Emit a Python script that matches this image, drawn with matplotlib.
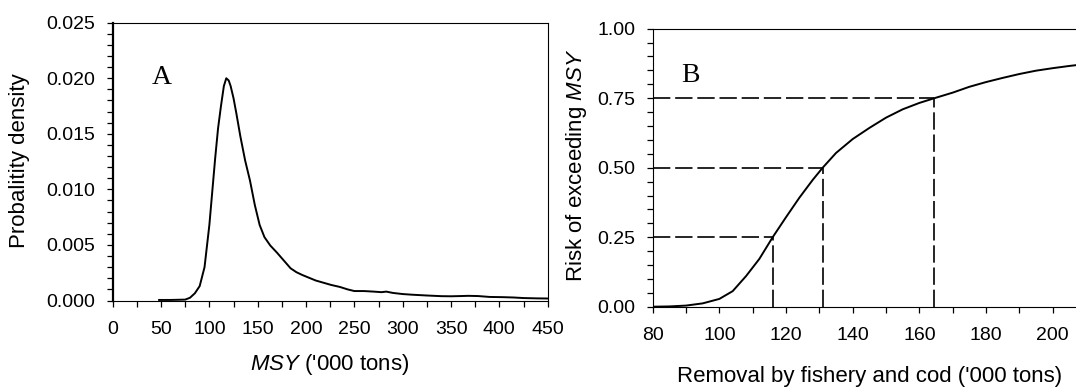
import matplotlib
matplotlib.use("Agg")
import matplotlib.pyplot as plt
from matplotlib.ticker import MultipleLocator, FormatStrFormatter

plt.rcParams['font.family'] = ['Liberation Sans', 'DejaVu Sans']
plt.rcParams['mathtext.fontset'] = 'custom'
plt.rcParams['mathtext.it'] = 'Liberation Sans:italic'
plt.rcParams['mathtext.rm'] = 'Liberation Sans'

# ---- Panel A data: probability density of MSY ----
msy_x = [48, 60, 75, 80, 85, 90, 95, 100, 103, 106, 109, 112, 115, 117.5, 120, 122,
         125, 128, 132, 137, 142, 147, 152, 157, 163, 170, 177, 184, 190, 196, 203,
         210, 218, 226, 235, 243, 250, 260, 270, 278, 283, 290, 300, 310, 325, 340,
         350, 360, 368, 378, 390, 404, 415, 425, 440, 450]
msy_density = [0.05, 0.05, 0.08, 0.25, 0.65, 1.3, 3.0, 6.8, 9.8, 12.8, 15.5, 17.5, 19.3,
               20.0, 19.8, 19.3, 18.2, 16.8, 14.8, 12.6, 10.8, 8.6, 6.8, 5.7, 4.95, 4.3,
               3.6, 2.9, 2.55, 2.3, 2.05, 1.8, 1.6, 1.4, 1.22, 1.0, 0.85, 0.85, 0.8,
               0.75, 0.8, 0.68, 0.58, 0.52, 0.45, 0.39, 0.38, 0.40, 0.42, 0.40, 0.32,
               0.30, 0.27, 0.22, 0.19, 0.18]
msy_density = [v * 1e-3 for v in msy_density]

# ---- Panel B data: risk of exceeding MSY ----
removal_x = [80, 85, 90, 95, 100, 104, 108, 112, 116, 120, 124, 128, 131, 135, 140, 145,
             150, 155, 160, 164.5, 170, 175, 180, 185, 190, 195, 200, 205, 210]
risk = [0.0, 0.001, 0.004, 0.012, 0.028, 0.056, 0.11, 0.172, 0.25, 0.322, 0.392, 0.456,
        0.50, 0.553, 0.603, 0.643, 0.68, 0.71, 0.733, 0.75, 0.77, 0.791, 0.808, 0.823,
        0.837, 0.849, 0.858, 0.866, 0.873]

# reference levels (risk, removal)
ref_risk = [0.25, 0.50, 0.75]
ref_removal = [116, 131, 164.5]

W, H = 1076, 387
fig = plt.figure(figsize=(W / 100, H / 100), dpi=100)

FS_TICK = 14
FS_LAB = 16

def px_axes(l, r, t, b):
    return fig.add_axes([l / W, 1 - b / H, (r - l) / W, (b - t) / H])

# ---------- Panel A ----------
axA = px_axes(112.7, 547.7, 22.7, 300.5)
axA.plot(msy_x, msy_density, color='black', lw=1.4)
axA.set_xlim(0, 450)
axA.set_ylim(0, 0.025)
axA.xaxis.set_major_locator(MultipleLocator(50))
axA.xaxis.set_minor_locator(MultipleLocator(25))
axA.yaxis.set_major_locator(MultipleLocator(0.005))
axA.yaxis.set_minor_locator(MultipleLocator(0.001))
axA.yaxis.set_major_formatter(FormatStrFormatter('%.3f'))
axA.set_ylabel('Probalitity density', fontsize=FS_LAB)
axA.yaxis.set_label_coords(-0.19, 0.502)
axA.set_xlabel(r"$\it{MSY}$ ('000 tons)", fontsize=FS_LAB)
axA.xaxis.set_label_coords(0.5, -0.185)
axA.text(0.113, 0.802, 'A', transform=axA.transAxes, ha='center', va='center',
         fontsize=20, family='Liberation Serif')
axA.spines['left'].set_linewidth(1.6)

# ---------- Panel B ----------
axB = px_axes(652.7, 652.7 + 433.3, 28.7, 306.7)
axB.plot(removal_x, risk, color='black', lw=1.4)
dash = (0, (10.4, 2.9))
for rr, xr in zip(ref_risk, ref_removal):
    axB.plot([80, xr], [rr, rr], color='black', lw=1.2, linestyle=dash)
    axB.plot([xr, xr], [0, rr], color='black', lw=1.2, linestyle=dash)
axB.set_xlim(80, 210)
axB.set_ylim(0, 1.0)
axB.xaxis.set_major_locator(MultipleLocator(20))
axB.xaxis.set_minor_locator(MultipleLocator(10))
axB.yaxis.set_major_locator(MultipleLocator(0.25))
axB.yaxis.set_minor_locator(MultipleLocator(0.05))
axB.yaxis.set_major_formatter(FormatStrFormatter('%.2f'))
axB.set_ylabel(r"Risk of exceeding $\it{MSY}$", fontsize=FS_LAB)
axB.yaxis.set_label_coords(-0.148, 0.51)
axB.set_xlabel("Removal by fishery and cod ('000 tons)", fontsize=FS_LAB)
axB.xaxis.set_label_coords(0.5, -0.215)
axB.text(0.088, 0.833, 'B', transform=axB.transAxes, ha='center', va='center',
         fontsize=20, family='Liberation Serif')

for ax in (axA, axB):
    for s in ax.spines.values():
        s.set_color('black')
    ax.tick_params(axis='both', which='both', direction='out', length=4.5, width=0.9,
                   labelsize=FS_TICK, color='black')
    ax.tick_params(axis='x', which='both', pad=10)
    ax.tick_params(axis='y', which='both', pad=8)

fig.savefig('out.png', dpi=100)
